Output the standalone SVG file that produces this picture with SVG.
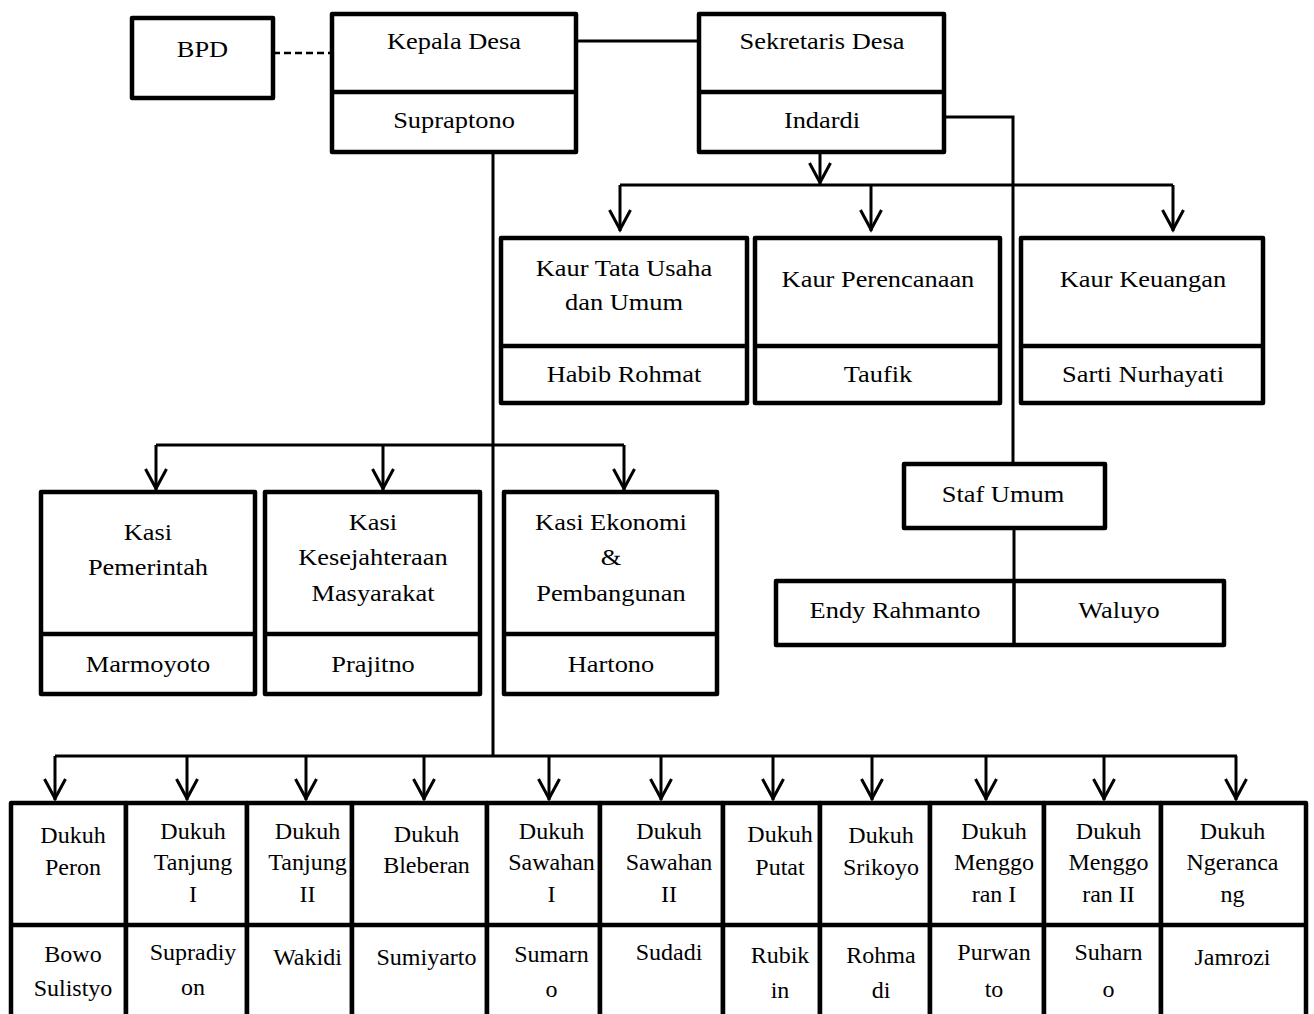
<svg xmlns="http://www.w3.org/2000/svg" width="1314" height="1014" viewBox="0 0 1314 1014">
<style>
.box{fill:#fff;stroke:#000;stroke-width:4.5;stroke-linejoin:round}
.dv{stroke:#000;stroke-width:4.5}
.conn{fill:none;stroke:#000;stroke-width:3}
.dash{fill:none;stroke:#000;stroke-width:2.5;stroke-dasharray:7 4}
text{font-family:"Liberation Serif","Times New Roman",serif;fill:#000;text-anchor:middle}
.t{font-size:24px;transform:scaleX(1.1);transform-box:fill-box;transform-origin:center}
.s{font-size:24px}
</style>
<defs>
<marker id="ah" markerUnits="userSpaceOnUse" viewBox="-24 -12 26 24" markerWidth="26" markerHeight="24" refX="0" refY="0" orient="auto" overflow="visible">
<path d="M-21,-10.5 L-1.5,0 L-21,10.5" fill="none" stroke="#000" stroke-width="3"/>
</marker>
</defs>
<rect width="1314" height="1014" fill="#fff"/>

<g id="connectors">
<path class="dash" d="M273 53H332"/>
<path class="conn" d="M576 41H699"/>
<path class="conn" d="M493 152V756"/>
<path class="conn" d="M820 152V184" marker-end="url(#ah)"/>
<path class="conn" d="M620 185H1173"/>
<path class="conn" d="M620 185V231" marker-end="url(#ah)"/>
<path class="conn" d="M871 185V231" marker-end="url(#ah)"/>
<path class="conn" d="M1173 185V231" marker-end="url(#ah)"/>
<path class="conn" d="M944 117H1013V464"/>
<path class="conn" d="M1014 528V581"/>
<path class="conn" d="M156 445H624"/>
<path class="conn" d="M156 445V490" marker-end="url(#ah)"/>
<path class="conn" d="M383 445V490" marker-end="url(#ah)"/>
<path class="conn" d="M624 445V490" marker-end="url(#ah)"/>
<path class="conn" d="M55 756H1237"/>
<path class="conn" d="M55 756V800" marker-end="url(#ah)"/>
<path class="conn" d="M187 756V800" marker-end="url(#ah)"/>
<path class="conn" d="M306 756V800" marker-end="url(#ah)"/>
<path class="conn" d="M424 756V800" marker-end="url(#ah)"/>
<path class="conn" d="M549 756V800" marker-end="url(#ah)"/>
<path class="conn" d="M661 756V800" marker-end="url(#ah)"/>
<path class="conn" d="M773 756V800" marker-end="url(#ah)"/>
<path class="conn" d="M872 756V800" marker-end="url(#ah)"/>
<path class="conn" d="M986 756V800" marker-end="url(#ah)"/>
<path class="conn" d="M1104 756V800" marker-end="url(#ah)"/>
<path class="conn" d="M1236 756V800" marker-end="url(#ah)"/>
</g>

<g id="bpd">
<rect class="box" x="132" y="18" width="141" height="80"/>
<text class="t" x="202.5" y="57">BPD</text>
</g>

<g id="kepala-desa">
<rect class="box" x="332" y="14" width="244" height="138"/>
<path class="dv" d="M332 92H576"/>
<text class="t" x="454" y="49">Kepala Desa</text>
<text class="t" x="454" y="128">Supraptono</text>
</g>

<g id="sekretaris-desa">
<rect class="box" x="699" y="14" width="245" height="138"/>
<path class="dv" d="M699 92H944"/>
<text class="t" x="822" y="49">Sekretaris Desa</text>
<text class="t" x="822" y="128">Indardi</text>
</g>

<g id="kaur-tu">
<rect class="box" x="501" y="238" width="246" height="165"/>
<path class="dv" d="M501 346H747"/>
<text class="t" x="624" y="276">Kaur Tata Usaha</text>
<text class="t" x="624" y="310">dan Umum</text>
<text class="t" x="624" y="382">Habib Rohmat</text>
</g>

<g id="kaur-perencanaan">
<rect class="box" x="755" y="238" width="245" height="165"/>
<path class="dv" d="M755 346H1000"/>
<text class="t" x="878" y="287">Kaur Perencanaan</text>
<text class="t" x="878" y="382">Taufik</text>
</g>

<g id="kaur-keuangan">
<rect class="box" x="1021" y="238" width="242" height="165"/>
<path class="dv" d="M1021 346H1263"/>
<text class="t" x="1143" y="287">Kaur Keuangan</text>
<text class="t" x="1143" y="382">Sarti Nurhayati</text>
</g>

<g id="kasi-pemerintah">
<rect class="box" x="41" y="492" width="214" height="202"/>
<path class="dv" d="M41 634H255"/>
<text class="t" x="148" y="540">Kasi</text>
<text class="t" x="148" y="575">Pemerintah</text>
<text class="t" x="148" y="672">Marmoyoto</text>
</g>

<g id="kasi-kesejahteraan">
<rect class="box" x="265" y="492" width="215" height="202"/>
<path class="dv" d="M265 634H480"/>
<text class="t" x="373" y="530">Kasi</text>
<text class="t" x="373" y="565">Kesejahteraan</text>
<text class="t" x="373" y="601">Masyarakat</text>
<text class="t" x="373" y="672">Prajitno</text>
</g>

<g id="kasi-ekonomi">
<rect class="box" x="504" y="492" width="213" height="202"/>
<path class="dv" d="M504 634H717"/>
<text class="t" x="611" y="530">Kasi Ekonomi</text>
<text class="t" x="611" y="565">&amp;</text>
<text class="t" x="611" y="601">Pembangunan</text>
<text class="t" x="611" y="672">Hartono</text>
</g>

<g id="staf-umum">
<rect class="box" x="904" y="464" width="201" height="64"/>
<text class="t" x="1003" y="502">Staf Umum</text>
</g>

<g id="staf-names">
<rect class="box" x="776" y="581" width="448" height="64"/>
<path class="dv" d="M1014 581V645" style="stroke-width:3.5"/>
<text class="t" x="895" y="618">Endy Rahmanto</text>
<text class="t" x="1119" y="618">Waluyo</text>
</g>

<g id="dukuh-peron">
<rect class="box" x="11" y="803" width="115" height="230"/>
<path class="dv" d="M11 925H126"/>
<text class="s" x="73" y="843">Dukuh</text>
<text class="s" x="73" y="875">Peron</text>
<text class="s" x="73" y="962">Bowo</text>
<text class="s" x="73" y="996">Sulistyo</text>
</g>

<g id="dukuh-tanjung-1">
<rect class="box" x="126" y="803" width="121" height="230"/>
<path class="dv" d="M126 925H247"/>
<text class="s" x="193" y="839">Dukuh</text>
<text class="s" x="193" y="870">Tanjung</text>
<text class="s" x="193" y="902">I</text>
<text class="s" x="193" y="960">Supradiy</text>
<text class="s" x="193" y="995">on</text>
</g>

<g id="dukuh-tanjung-2">
<rect class="box" x="247" y="803" width="105" height="230"/>
<path class="dv" d="M247 925H352"/>
<text class="s" x="307.5" y="839">Dukuh</text>
<text class="s" x="307.5" y="870">Tanjung</text>
<text class="s" x="307.5" y="902">II</text>
<text class="s" x="307.5" y="965">Wakidi</text>
</g>

<g id="dukuh-bleberan">
<rect class="box" x="352" y="803" width="135" height="230"/>
<path class="dv" d="M352 925H487"/>
<text class="s" x="426.5" y="842">Dukuh</text>
<text class="s" x="426.5" y="873">Bleberan</text>
<text class="s" x="426.5" y="965">Sumiyarto</text>
</g>

<g id="dukuh-sawahan-1">
<rect class="box" x="487" y="803" width="113" height="230"/>
<path class="dv" d="M487 925H600"/>
<text class="s" x="551.5" y="839">Dukuh</text>
<text class="s" x="551.5" y="870">Sawahan</text>
<text class="s" x="551.5" y="902">I</text>
<text class="s" x="551.5" y="962">Sumarn</text>
<text class="s" x="551.5" y="997">o</text>
</g>

<g id="dukuh-sawahan-2">
<rect class="box" x="600" y="803" width="123" height="230"/>
<path class="dv" d="M600 925H723"/>
<text class="s" x="669" y="839">Dukuh</text>
<text class="s" x="669" y="870">Sawahan</text>
<text class="s" x="669" y="902">II</text>
<text class="s" x="669" y="960">Sudadi</text>
</g>

<g id="dukuh-putat">
<rect class="box" x="723" y="803" width="97" height="230"/>
<path class="dv" d="M723 925H820"/>
<text class="s" x="780" y="842">Dukuh</text>
<text class="s" x="780" y="875">Putat</text>
<text class="s" x="780" y="963">Rubik</text>
<text class="s" x="780" y="998">in</text>
</g>

<g id="dukuh-srikoyo">
<rect class="box" x="820" y="803" width="110" height="230"/>
<path class="dv" d="M820 925H930"/>
<text class="s" x="881" y="843">Dukuh</text>
<text class="s" x="881" y="875">Srikoyo</text>
<text class="s" x="881" y="963">Rohma</text>
<text class="s" x="881" y="998">di</text>
</g>

<g id="dukuh-menggoran-1">
<rect class="box" x="930" y="803" width="114" height="230"/>
<path class="dv" d="M930 925H1044"/>
<text class="s" x="994" y="839">Dukuh</text>
<text class="s" x="994" y="870">Menggo</text>
<text class="s" x="994" y="902">ran I</text>
<text class="s" x="994" y="960">Purwan</text>
<text class="s" x="994" y="997">to</text>
</g>

<g id="dukuh-menggoran-2">
<rect class="box" x="1044" y="803" width="117" height="230"/>
<path class="dv" d="M1044 925H1161"/>
<text class="s" x="1108.5" y="839">Dukuh</text>
<text class="s" x="1108.5" y="870">Menggo</text>
<text class="s" x="1108.5" y="902">ran II</text>
<text class="s" x="1108.5" y="960">Suharn</text>
<text class="s" x="1108.5" y="997">o</text>
</g>

<g id="dukuh-ngerancang">
<rect class="box" x="1161" y="803" width="145" height="230"/>
<path class="dv" d="M1161 925H1306"/>
<text class="s" x="1232.5" y="839">Dukuh</text>
<text class="s" x="1232.5" y="870">Ngeranca</text>
<text class="s" x="1232.5" y="902">ng</text>
<text class="s" x="1232.5" y="965">Jamrozi</text>
</g>
</svg>
